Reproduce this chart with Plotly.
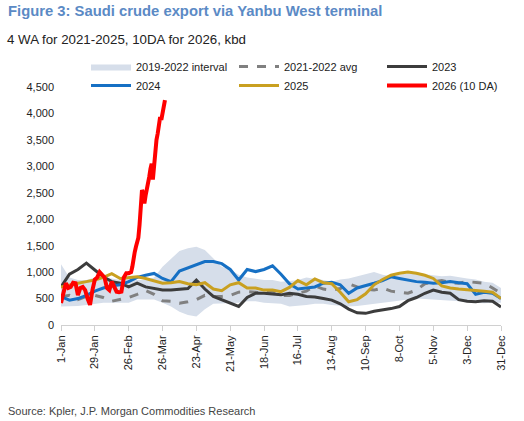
import plotly.graph_objects as go

# day-of-year for the weekly series (4WA lines and the 2019-2022 band)
days = list(range(0, 365, 7))

band_low = [350, 350, 360, 380, 400, 420, 420, 420, 420, 480, 480, 480, 420, 350,
            250, 190, 160, 300, 400, 410, 410, 420, 450, 450, 420, 410, 400, 350,
            360, 380, 400, 400, 380, 360, 350, 360, 380, 400, 410, 430, 450, 480,
            500, 490, 480, 470, 470, 460, 440, 420, 410, 420, 420]
band_high = [1150, 900, 850, 850, 900, 900, 880, 850, 900, 850, 850, 900, 1100, 1250,
             1400, 1450, 1480, 1420, 1250, 1100, 1050, 950, 900, 880, 850, 850, 820, 830,
             850, 900, 880, 850, 820, 860, 880, 920, 950, 1000, 950, 920, 950, 980,
             1000, 960, 940, 920, 930, 900, 880, 860, 820, 800, 700]
avg_21_22 = [535, 560, 480, 540, 560, 520, 450, 480, 520, 580, 650, 580, 460, 450,
             410, 440, 480, 560, 540, 540, 560, 620, 630, 620, 600, 640, 560, 560,
             600, 640, 740, 680, 660, 690, 780, 720, 680, 660, 700, 640, 620, 600,
             660, 780, 820, 840, 800, 790, 820, 800, 790, 700, 600]
y2023 = [720, 960, 1050, 1170, 1040, 910, 820, 790, 720, 790, 720, 690, 660, 660,
         680, 690, 850, 680, 540, 480, 415, 350, 520, 600, 600, 580, 570, 600,
         580, 540, 530, 500, 470, 400, 300, 230, 220, 260, 280, 310, 350, 460,
         520, 600, 660, 620, 600, 480, 450, 440, 460, 450, 340]
y2024 = [535, 470, 500, 560, 640, 700, 740, 760, 820, 900, 940, 975, 880, 820,
         1020, 1080, 1150, 1200, 1200, 1160, 1050, 850, 1050, 1010, 1050, 1120, 960, 780,
         680, 700, 720, 790, 810, 760, 600, 700, 740, 790, 840, 910, 880, 850,
         820, 810, 790, 800, 820, 800, 780, 580, 620, 600, 500]
y2025 = [720, 760, 790, 820, 850, 900, 970, 880, 900, 910, 880, 830, 790, 800,
         820, 780, 760, 800, 680, 650, 760, 800, 700, 700, 660, 660, 630, 710,
         840, 760, 870, 800, 780, 620, 440, 480, 590, 760, 860, 940, 980, 1000,
         980, 940, 880, 740, 700, 680, 670, 650, 640, 620, 500]

# 2026, 10 day average
days_2026 = [0, 2, 4, 6, 8, 10, 12, 14, 16, 18, 20, 22, 24, 26, 28, 30, 32, 34, 36, 38,
             40, 42, 44, 46, 48, 50, 52, 54, 56, 58, 59, 60, 61, 62, 63, 64, 65, 66,
             67, 68, 69, 70, 71, 72, 73, 74, 75, 76, 77, 78, 79, 80, 81, 82, 83, 84,
             85, 86]
y2026 = [415, 600, 790, 700, 720, 800, 790, 565, 700, 720, 660, 500, 380, 660, 860,
         900, 1000, 950, 900, 700, 660, 820, 700, 630, 620, 630, 900, 980, 980, 1000,
         1100, 1290, 1380, 1480, 1550, 1650, 1900, 2200, 2550, 2500, 2300, 2450, 2550,
         2650, 2800, 2950, 3050, 2750, 3050, 3300, 3500, 3620, 3800, 3930, 3880, 4050,
         4150, 4250]

tick_days = list(range(0, 365, 28))
tick_labels = ['1-Jan', '29-Jan', '26-Feb', '26-Mar', '23-Apr', '21-May', '18-Jun',
               '16-Jul', '13-Aug', '10-Sep', '8-Oct', '5-Nov', '3-Dec', '31-Dec']

FONT = 'Liberation Sans, Arial, sans-serif'
PW, PH = 440, 238  # plot area in px

fig = go.Figure()
fig.add_trace(go.Scatter(x=days, y=band_low, mode='lines', line=dict(width=0),
                         showlegend=False, hoverinfo='skip'))
fig.add_trace(go.Scatter(x=days, y=band_high, mode='lines', line=dict(width=0),
                         fill='tonexty', fillcolor='#d6deea',
                         name='2019-2022 interval'))
fig.add_trace(go.Scatter(x=days, y=avg_21_22, mode='lines',
                         line=dict(color='#808080', width=3, dash='dash'),
                         name='2021-2022 avg'))
fig.add_trace(go.Scatter(x=days, y=y2023, mode='lines',
                         line=dict(color='#3c3c3c', width=3), name='2023'))
fig.add_trace(go.Scatter(x=days, y=y2024, mode='lines',
                         line=dict(color='#1670c4', width=3), name='2024'))
fig.add_trace(go.Scatter(x=days, y=y2025, mode='lines',
                         line=dict(color='#c9a020', width=3), name='2025'))
fig.add_trace(go.Scatter(x=days_2026, y=y2026, mode='lines',
                         line=dict(color='#ff0000', width=4), name='2026 (10 DA)'))

fig.update_layout(
    width=524, height=421,
    margin=dict(l=61, r=23, t=87, b=96, autoexpand=False),
    paper_bgcolor='white', plot_bgcolor='white',
    font=dict(family=FONT, size=11, color='#222222'),
    legend=dict(orientation='h', x=25 / PW, y=1 + 35 / PH, xanchor='left', yanchor='top',
                entrywidth=93, entrywidthmode='pixels', tracegroupgap=0,
                traceorder='normal',
                font=dict(size=11, color='#222222'), itemwidth=40,
                bgcolor='rgba(0,0,0,0)'),
    xaxis=dict(range=[0, 364], tickvals=tick_days, ticktext=tick_labels,
               tickangle=-90, showgrid=False, zeroline=False, automargin=False,
               showline=True, linecolor='#d0d0d0', linewidth=1,
               ticks='outside', tickcolor='#d0d0d0', ticklen=5,
               tickfont=dict(size=11, color='#222222')),
    yaxis=dict(range=[0, 4500], tickvals=list(range(0, 4501, 500)),
               tickformat=',', showgrid=False, zeroline=False, showline=False,
               automargin=False, ticks='', ticklabelstandoff=6,
               tickfont=dict(size=11, color='#222222')),
    annotations=[
        dict(text='<b>Figure 3: Saudi crude export via Yanbu West terminal</b>',
             xref='paper', yref='paper', x=-55 / PW, y=1 + 66 / PH,
             xanchor='left', yanchor='bottom', showarrow=False,
             font=dict(size=14.8, color='#5b8ac5')),
        dict(text='4 WA for 2021-2025, 10DA for 2026, kbd',
             xref='paper', yref='paper', x=-56 / PW, y=1 + 38 / PH,
             xanchor='left', yanchor='bottom', showarrow=False,
             font=dict(size=13.3, color='#222222')),
        dict(text='Source: Kpler, J.P. Morgan Commodities Research',
             xref='paper', yref='paper', x=-55 / PW, y=-78 / PH,
             xanchor='left', yanchor='top', showarrow=False,
             font=dict(size=11, color='#444444')),
    ],
)

fig.write_html('out.html', config={'displayModeBar': False},
               post_script="document.body.style.margin='0';")
